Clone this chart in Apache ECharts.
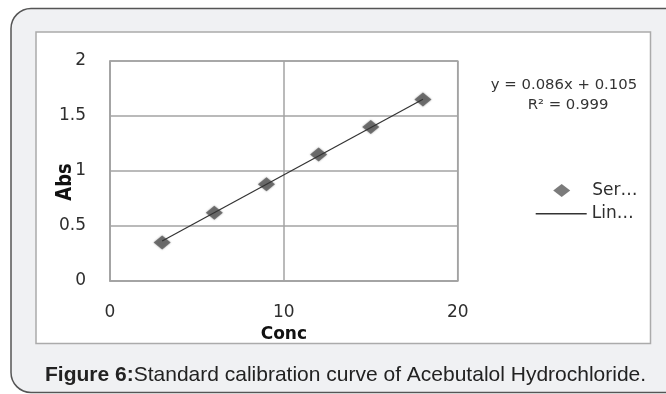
<!DOCTYPE html>
<html>
<head>
<meta charset="utf-8">
<script src="https://cdn.jsdelivr.net/npm/echarts@6/dist/echarts.min.js"></script>
<style>
html,body{margin:0;padding:0;background:#ffffff;}
#chart{width:666px;height:394px;}
</style>
</head>
<body>
<div id="chart"></div>
<script>
// ---- data ----
var concValues = [3, 6, 9, 12, 15, 18];
var absValues = [0.35, 0.62, 0.88, 1.15, 1.40, 1.65];
var trendX = [3, 18];
var trendY = [0.363, 1.653];
var xTicks = [0, 10, 20];
var yTicks = [0, 0.5, 1, 1.5, 2];
var equationText = 'y = 0.086x + 0.105';
var r2Text = 'R\u00B2 = 0.999';
var seriesName = 'Ser\u2026';
var trendName = 'Lin\u2026';
var xName = 'Conc';
var yName = 'Abs';
var captionBold = 'Figure 6:';
var captionText = 'Standard calibration curve of Acebutalol Hydrochloride.';

var scatterData = concValues.map(function (x, i) { return [x, absValues[i]]; });
var trendData = trendX.map(function (x, i) { return [x, trendY[i]]; });

var font = '"DejaVu Sans", Verdana, sans-serif';
var textColor = '#2e2e2e';
var chart = echarts.init(document.getElementById('chart'));
chart.setOption({
  animation: false,
  backgroundColor: '#ffffff',
  graphic: [
    { type: 'rect', z: -20, shape: { x: 11, y: 8.5, width: 720, height: 384, r: 20 },
      style: { fill: '#f0f1f3', stroke: '#555555', lineWidth: 1.5 } },
    { type: 'rect', z: -19, shape: { x: 36, y: 32, width: 614.5, height: 311.5 },
      style: { fill: '#ffffff', stroke: '#ababab', lineWidth: 1.5 } },
    { type: 'text', z: 10, x: 564, y: 85, scaleX: 1.1,
      style: { text: equationText, font: '13.5px ' + font, fill: '#333333', align: 'center', verticalAlign: 'middle' } },
    { type: 'text', z: 10, x: 568, y: 105, scaleX: 1.1,
      style: { text: r2Text, font: '13.5px ' + font, fill: '#333333', align: 'center', verticalAlign: 'middle' } },
    { type: 'text', z: 10, x: 45, y: 375,
      style: {
        text: '{b|' + captionBold + '}{n|' + captionText + '}',
        verticalAlign: 'middle', align: 'left',
        rich: {
          b: { fontFamily: '"Liberation Sans", Arial, sans-serif', fontWeight: 'bold', fontSize: 21, fill: '#222222' },
          n: { fontFamily: '"Liberation Sans", Arial, sans-serif', fontSize: 21, fill: '#222222' }
        }
      } },
    { type: 'text', z: 10, x: 65, y: 182, rotation: Math.PI / 2, scaleY: 1.2,
      style: { text: yName, font: 'bold 18px ' + font, fill: '#111111', align: 'center', verticalAlign: 'middle' } }
  ],
  grid: {
    left: 110, top: 61, width: 347.7, height: 220,
    show: true, backgroundColor: '#ffffff', borderColor: '#a3a3a3', borderWidth: 1.5
  },
  legend: [
    {
      orient: 'vertical', left: 548.2, top: 177, selectedMode: false,
      itemWidth: 17, itemHeight: 13, symbolKeepAspect: false,
      textStyle: { fontFamily: font, fontSize: 17, color: textColor, padding: [0, 0, 0, 17] },
      data: [{ name: seriesName, icon: 'diamond' }]
    },
    {
      orient: 'vertical', left: 530.7, top: 200.2, selectedMode: false,
      itemWidth: 51, itemHeight: 1.5,
      textStyle: { fontFamily: font, fontSize: 17, color: textColor },
      data: [{ name: trendName, icon: 'rect' }]
    }
  ],
  xAxis: {
    type: 'value', min: xTicks[0], max: xTicks[xTicks.length - 1], interval: xTicks[1] - xTicks[0],
    name: xName, nameLocation: 'middle', nameGap: 40,
    nameTextStyle: { fontFamily: font, fontWeight: 'bold', fontSize: 17, color: '#111111' },
    axisLine: { show: true, lineStyle: { color: '#a3a3a3', width: 1.5 } },
    axisTick: { show: false },
    axisLabel: { margin: 23, fontFamily: font, fontSize: 17, color: textColor },
    splitLine: { show: true, lineStyle: { color: '#a3a3a3', width: 1.5 } }
  },
  yAxis: {
    type: 'value', min: yTicks[0], max: yTicks[yTicks.length - 1], interval: yTicks[1] - yTicks[0],
    axisLine: { show: true, lineStyle: { color: '#a3a3a3', width: 1.5 } },
    axisTick: { show: false },
    axisLabel: { margin: 24, fontFamily: font, fontSize: 17, color: textColor },
    splitLine: { show: true, lineStyle: { color: '#a3a3a3', width: 1.5 } }
  },
  series: [
    {
      name: seriesName, type: 'scatter', data: scatterData,
      symbol: 'diamond', symbolSize: [17, 14],
      itemStyle: { color: '#5a5a5a', shadowBlur: 2, shadowColor: 'rgba(60,60,60,0.6)' },
      z: 2
    },
    {
      name: trendName, type: 'line', data: trendData,
      symbol: 'none', showSymbol: false,
      lineStyle: { color: '#333333', width: 1.2 },
      itemStyle: { color: '#333333' },
      z: 3
    }
  ]
});
</script>
</body>
</html>
